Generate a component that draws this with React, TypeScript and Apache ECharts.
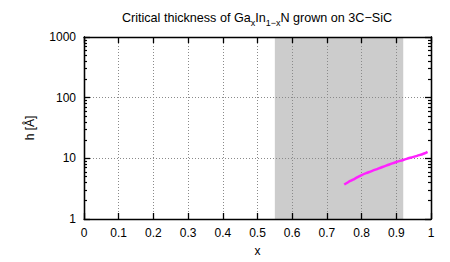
import React, { useEffect, useRef } from "react";
import * as echarts from "echarts";

const xValues = [0.75, 0.76, 0.77, 0.78, 0.8, 0.82, 0.84, 0.86, 0.88, 0.9, 0.92, 0.94, 0.96, 0.98, 0.99];
const hValues = [3.7, 4.0, 4.3, 4.6, 5.3, 5.9, 6.5, 7.2, 7.9, 8.7, 9.4, 10.2, 11.0, 12.0, 12.8];
const shadeRange = [0.55, 0.92];
const xTicks = [0, 1, 0.1];
const yRange = [1, 1000];
const yMinorTicks = [
  2, 3, 4, 5, 6, 7, 8, 9,
  20, 30, 40, 50, 60, 70, 80, 90,
  200, 300, 400, 500, 600, 700, 800, 900,
];

const FONT = "'Liberation Sans', Arial, Helvetica, sans-serif";

export default function App() {
  const ref = useRef<HTMLDivElement>(null);
  useEffect(() => {
    if (!ref.current) return;
    const chart = echarts.init(ref.current, undefined, { renderer: "svg" });
    const axisLine = { show: true, onZero: false, lineStyle: { color: "#000", width: 1.3 } };
    const xBase = {
      type: "value",
      min: xTicks[0],
      max: xTicks[1],
      interval: xTicks[2],
      z: 5,
      axisLine,
      axisTick: { show: true, inside: true, length: 6, lineStyle: { color: "#000", width: 1.3 } },
    };
    const yBase = {
      type: "log",
      logBase: 10,
      min: yRange[0],
      max: yRange[1],
      z: 5,
      axisLine,
      axisTick: { show: true, inside: true, length: 6, lineStyle: { color: "#000", width: 1.3 } },
    };
    const yMinor = {
      ...yBase,
      axisTick: {
        show: true,
        inside: true,
        length: 3,
        customValues: yMinorTicks,
        lineStyle: { color: "#000", width: 1.2 },
      },
      axisLabel: { show: false },
      splitLine: { show: false },
    };
    const dotted = { show: true, lineStyle: { color: "#8a8a8a", type: [1, 2], width: 1 } };
    chart.setOption({
      animation: false,
      textStyle: { fontFamily: FONT },
      grid: { left: 84, right: 19, top: 37, bottom: 40, containLabel: false },
      graphic: [
        {
          type: "text",
          x: 257,
          y: 9,
          style: {
            text: "Critical thickness of Ga{sub|x}In{sub|1−x}N grown on 3C−SiC",
            fontSize: 12.6,
            fontFamily: FONT,
            fill: "#000",
            align: "center",
            verticalAlign: "top",
            rich: { sub: { fontSize: 9, fontFamily: FONT, fill: "#000", padding: [9, 0, 0, 0] } },
          },
        },
      ],
      xAxis: [
        {
          ...xBase,
          position: "bottom",
          name: "x",
          nameLocation: "middle",
          nameGap: 26,
          nameTextStyle: { fontSize: 12, color: "#000", fontFamily: FONT },
          axisLabel: { show: true, margin: 8, fontSize: 12, color: "#000", fontFamily: FONT },
          splitLine: dotted,
        },
        {
          ...xBase,
          position: "top",
          axisLabel: { show: false },
          splitLine: { show: false },
        },
      ],
      yAxis: [
        {
          ...yBase,
          position: "left",
          name: "h [Å]",
          nameLocation: "middle",
          nameGap: 48,
          nameTextStyle: { fontSize: 12, color: "#000", fontFamily: FONT },
          axisLabel: {
            show: true,
            margin: 8,
            fontSize: 12,
            color: "#000",
            fontFamily: FONT,
            formatter: (v: number) => String(v),
          },
          splitLine: dotted,
        },
        {
          ...yBase,
          position: "right",
          axisLabel: { show: false },
          splitLine: { show: false },
        },
        { ...yMinor, position: "left" },
        { ...yMinor, position: "right" },
      ],
      series: [
        {
          type: "line",
          xAxisIndex: 0,
          yAxisIndex: 0,
          data: [],
          z: 1,
          silent: true,
          markArea: {
            silent: true,
            itemStyle: { color: "#cccccc", opacity: 1 },
            data: [[{ xAxis: shadeRange[0] }, { xAxis: shadeRange[1] }]],
          },
        },
        {
          type: "line",
          xAxisIndex: 0,
          yAxisIndex: 0,
          z: 10,
          showSymbol: false,
          symbol: "none",
          smooth: true,
          lineStyle: { color: "#ff22ff", width: 2.5 },
          data: xValues.map((x, i) => [x, hValues[i]]),
        },
      ],
    });
    return () => chart.dispose();
  }, []);
  return (
    <div
      ref={ref}
      style={{ position: "absolute", left: 0, top: 0, width: 450, height: 262, background: "#fff" }}
    />
  );
}
